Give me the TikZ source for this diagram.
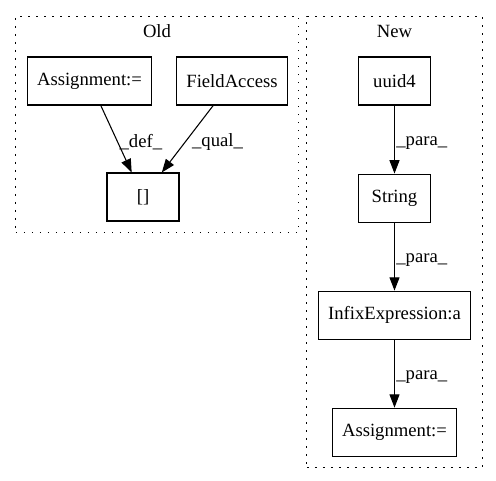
\documentclass[tikz,border=0pt]{standalone}
\usepackage{fontspec}
\setmainfont{Liberation Serif}
\usetikzlibrary{arrows.meta,fit,positioning}
\tikzstyle{caja}=[
	rectangle,
	draw=black,
	line width=.8pt,
	minimum width=54pt,
	minimum height=36pt,
	inner xsep=7.5pt]
\tikzstyle{rotulo}=[
	anchor=west,
	inner sep=1pt]
\tikzstyle{grupo}=[
	rectangle,
	draw=black,
	line width=.8pt,
	dash pattern=on 1.2pt off 4.8pt,
	inner sep=8pt]

\begin{document}
\begin{tikzpicture}[x=.75pt,y=-.75pt,font=\fontsize{14pt}{16pt}\selectfont,>={Triangle[length=10pt,width=7.5pt]}]
	\useasboundingbox (0,0) rectangle (496,480);
	\begin{scope}[line width=.8pt]
		% Old
		\node[caja]	(old asig)	at (89.5,81)	{Assignment:=};
		\node[caja]	(old field)	at (232,81)	{FieldAccess};
		\node[caja]	(old sub)	at (143,197)	{[]};
		\draw[->] (old asig) -- node[rotulo,pos=.55] {\_def\_} (old sub);
		\draw[->] (old field) -- node[rotulo,pos=.55,xshift=4pt] {\_qual\_} (old sub);
		\coordinate (old top) at (157,26.7);
		\node[grupo,fit=(old top)(old asig)(old field)(old sub)] (old) {};
		\node (old text) at (157,31) {Old};
		% New
		\node[caja]	(uuid)	at (394.5,81)	{uuid4};
		\node[caja]	(str)	[below=51pt of uuid]	{String};
		\node[caja]	(infix)	[below=51pt of str]	{InfixExpression:a};
		\node[caja]	(new asig)	[below=51pt of infix]	{Assignment:=};
		\draw[->] (uuid) -- node[rotulo,pos=.55] {\_para\_} (str);
		\draw[->] (str) -- node[rotulo,pos=.55] {\_para\_} (infix);
		\draw[->] (infix) -- node[rotulo,pos=.55] {\_para\_} (new asig);
		\coordinate (new top) at (394.5,26.7);
		\node[grupo,fit=(new top)(uuid)(infix)(new asig)] (new) {};
		\node (new text) at (394.5,31) {New};
	\end{scope}
\end{tikzpicture}
\end{document}
